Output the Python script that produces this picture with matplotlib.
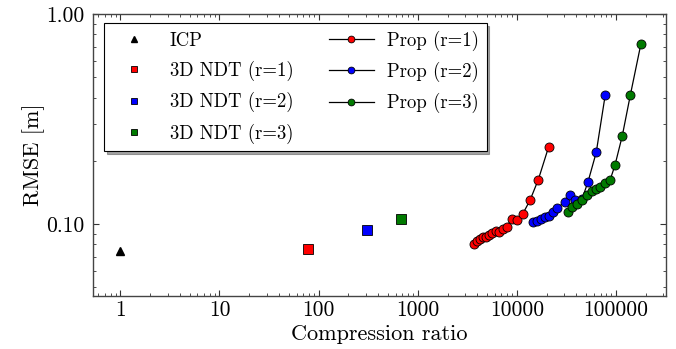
import matplotlib as mpl
import matplotlib.pyplot as plt
from matplotlib.ticker import LogLocator, NullFormatter

mpl.use("Agg")

plt.rcParams["font.family"] = ["cmr10", "DejaVu Serif"]
plt.rcParams["mathtext.fontset"] = "cm"
plt.rcParams["axes.unicode_minus"] = False

# baselines: (compression ratio, RMSE)
icp_x = [1]
icp_y = [0.0746]
ndt_labels = ["3D NDT (r=1)", "3D NDT (r=2)", "3D NDT (r=3)"]
ndt_x = [79, 311, 685]
ndt_y = [0.0758, 0.0936, 0.1057]

# proposed method, one curve per r
prop1_x = [3730, 4000, 4256, 4531, 4894, 5284, 5662, 6126, 6664, 7210,
           7909, 8886, 9975, 11470, 13590, 16480, 20980]
prop1_y = [0.0806, 0.0830, 0.0851, 0.0864, 0.0870, 0.0889, 0.0906, 0.0923,
           0.0919, 0.0944, 0.0971, 0.1060, 0.1045, 0.1116, 0.1297, 0.1626, 0.2335]
prop2_x = [14730, 15990, 17340, 19240, 21360, 23440, 25710, 30610, 34380,
           39060, 45410, 52240, 63270, 78000]
prop2_y = [0.1017, 0.1033, 0.1056, 0.1085, 0.1092, 0.1135, 0.1192, 0.1278,
           0.1374, 0.1301, 0.1311, 0.1585, 0.2191, 0.4114]
prop3_x = [32810, 36410, 40440, 45950, 51600, 57270, 63570, 69800, 77480,
           87020, 97740, 115800, 140000, 178600]
prop3_y = [0.1140, 0.1205, 0.1239, 0.1301, 0.1367, 0.1428, 0.1468, 0.1501,
           0.1568, 0.1611, 0.1903, 0.2624, 0.4127, 0.7197]

x_ticks = [1, 10, 100, 1000, 10000, 100000]
x_ticklabels = ["1", "10", "100", "1000", "10000", "100000"]
y_ticks = [0.1, 1.0]
y_ticklabels = ["0.10", "1.00"]

colors = ["#ff0000", "#0000ff", "#007a00"]

fig = plt.figure(figsize=(6.76, 3.49), dpi=100)
ax = fig.add_axes([0.1376, 0.1519, 0.8476, 0.808])

ax.plot(icp_x, icp_y, linestyle="none", marker="^", color="k", markersize=6, label="ICP")
for x, y, c, lab in zip(ndt_x, ndt_y, colors, ndt_labels):
    ax.plot([x], [y], linestyle="none", marker="s", markerfacecolor=c,
            markeredgecolor="k", markeredgewidth=0.6, markersize=6.5, label=lab)

prop_sets = [(prop1_x, prop1_y), (prop2_x, prop2_y), (prop3_x, prop3_y)]
for i, (x, y) in enumerate(prop_sets):
    ax.plot(x, y, color="k", linewidth=0.9, marker="o", markersize=6.5,
            markerfacecolor=colors[i], markeredgecolor="k", markeredgewidth=0.6,
            label=f"Prop (r={i + 1})")

ax.set_xscale("log")
ax.set_yscale("log")
ax.set_xlim(0.53, 3.2e5)
ax.set_ylim(0.0454, 1.0)

ax.set_xticks(x_ticks, x_ticklabels)
ax.set_yticks(y_ticks, y_ticklabels)
ax.xaxis.set_minor_locator(LogLocator(base=10, subs=range(2, 10), numticks=20))
ax.yaxis.set_minor_locator(LogLocator(base=10, subs=range(2, 10), numticks=20))
ax.xaxis.set_minor_formatter(NullFormatter())
ax.yaxis.set_minor_formatter(NullFormatter())
ax.tick_params(which="both", direction="in", top=True, right=True, labelsize=15.5,
               colors="#333333", labelcolor="k")
ax.tick_params(axis="y", which="major", pad=6)
ax.tick_params(which="major", length=4, width=0.8)
ax.tick_params(which="minor", length=2, width=0.6)
for sp in ax.spines.values():
    sp.set_color("#444444")
    sp.set_linewidth(1.0)

ax.set_xlabel("Compression ratio", fontsize=16, labelpad=3)
ax.set_ylabel("RMSE [m]", fontsize=16, labelpad=1)

leg = ax.legend(ncol=2, loc="upper left", bbox_to_anchor=(0.019, 0.968), borderaxespad=0,
                fontsize=13.5, fancybox=False, shadow=True, framealpha=1, edgecolor="k",
                markerscale=0.75, handlelength=2.4, handletextpad=0.7,
                columnspacing=1.9, labelspacing=0.6)
leg.get_frame().set_linewidth(0.8)

fig.savefig("out.png", dpi=100)
